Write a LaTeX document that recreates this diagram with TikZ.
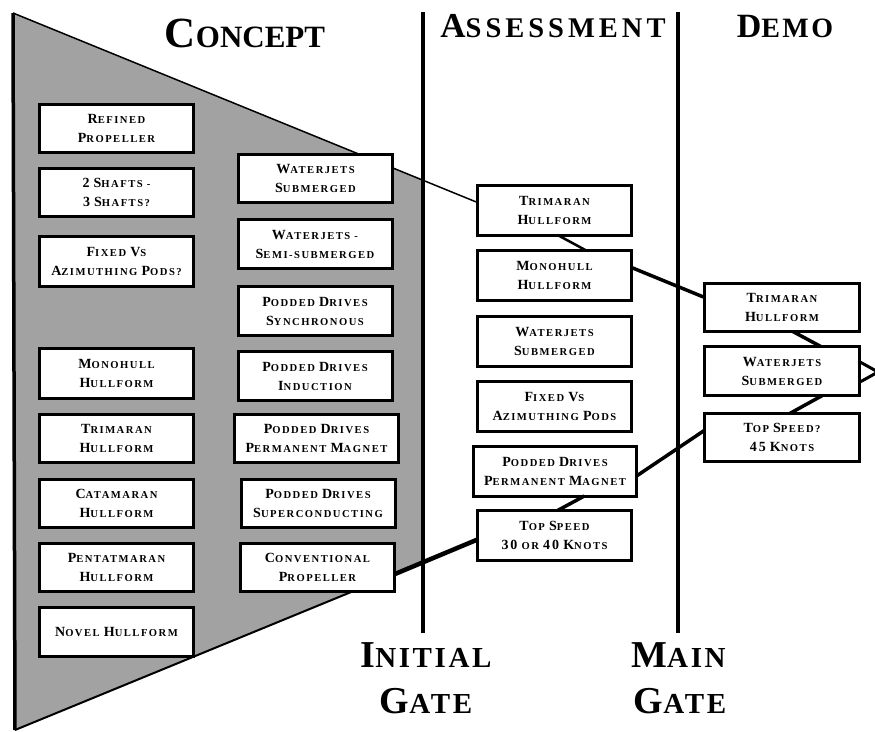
\documentclass[tikz,border=0pt]{standalone}
\usepackage{fontspec}
\setmainfont{Liberation Serif}
\newfontfamily\boxfam{Liberation Serif}[LetterSpace=14]
\newfontfamily\headfam{Liberation Serif}[LetterSpace=9]
\newfontfamily\wideheadfam{Liberation Serif}[LetterSpace=14]
\newfontfamily\plainfam{Liberation Serif}
\usetikzlibrary{calc}
\definecolor{funnelgray}{RGB}{162,162,162}

% fake small caps: the small size is the running size, \kp sets a capital
\newcommand\bxs{\boxfam\bfseries\fontsize{10.6}{19}\selectfont}
\newcommand\kp[1]{{\fontsize{14}{19}\selectfont #1}}
\newcommand\capsz[2]{{\fontsize{#1}{#1}\selectfont #2}}

\tikzset{
  box/.style={draw=black, line width=3pt, fill=white, minimum width=154pt,
    minimum height=48pt, inner sep=1pt, outer sep=0pt, align=center, font=\bxs},
  tallbox/.style={box, minimum height=50pt},
  gate/.style={line width=4.5pt},
  edge/.style={line width=2pt},
  thinlink/.style={line width=1.5pt},
  link/.style={line width=3.5pt},
  heavylink/.style={line width=4.5pt},
  head/.style={anchor=base, inner sep=0pt}
}

\begin{document}
\begin{tikzpicture}[x=1pt, y=-1pt]
\useasboundingbox (0,0) rectangle (875,731);

% funnel corners
\coordinate (ftop) at (13,13);
\coordinate (fhi) at (423,180);
\coordinate (flo) at (423,562);
\coordinate (fbot) at (15,730);
\coordinate (fcut) at (395,574);

% shaded funnel
\fill[funnelgray] (ftop) -- (fhi) -- (flo) -- (fbot) -- cycle;
\draw[line width=3.5pt] (ftop) -- (fbot);
\draw[edge] (fbot) -- (fcut);

% gates
\coordinate (g1t) at (423,12);
\coordinate (g1b) at (423,633);
\coordinate (g2t) at (678,12);
\coordinate (g2b) at (678,633);
\draw[gate] (g1t) -- (g1b);
\draw[gate] (g2t) -- (g2b);

% headings
\node[head] (hconcept) at (245,47) {\plainfam\bfseries\fontsize{31}{31}\selectfont\capsz{43}{C}ONCEPT};
\node[head] (hassess) at (553,37) {\wideheadfam\bfseries\fontsize{28.5}{28.5}\selectfont\capsz{35}{A}SSESSMENT};
\node[head] (hdemo) at (785,37) {\headfam\bfseries\fontsize{28}{28}\selectfont\capsz{34}{D}EMO};
\node[head] (hinit) at (426,667) {\headfam\bfseries\fontsize{29}{29}\selectfont\capsz{38}{I}NITIAL};
\node[head] (hinitg) at (426,713) {\headfam\bfseries\fontsize{29}{29}\selectfont\capsz{38}{G}ATE};
\node[head] (hmain) at (678.5,667) {\headfam\bfseries\fontsize{29}{29}\selectfont\capsz{38}{M}AIN};
\node[head] (hmaing) at (680,713) {\headfam\bfseries\fontsize{29}{29}\selectfont\capsz{38}{G}ATE};

% assessment boxes (placed first so the funnel edge can end on them)
\node[tallbox] (A1) at (554.5,210) {\kp{T}RIMARAN\\\kp{H}ULLFORM};
\node[tallbox] (A2) at (554.5,275) {\kp{M}ONOHULL\\\kp{H}ULLFORM};
\node[tallbox] (A3) at (554.5,341.5) {\kp{W}ATERJETS\\\kp{S}UBMERGED};
\node[tallbox] (A4) at (554.5,406.5) {\kp{F}IXED \kp{V}S\\\kp{A}ZIMUTHING \kp{P}ODS};
\node[tallbox, minimum width=163pt] (A5) at (555,471) {\kp{P}ODDED \kp{D}RIVES\\\kp{P}ERMANENT \kp{M}AGNET};
\node[tallbox] (A6) at (554.5,535.5) {\kp{T}OP \kp{S}PEED\\\kp{30} OR \kp{40} \kp{K}NOTS};

% upper funnel edge, running on to the assessment stage
\draw[thinlink] (ftop) -- ($(A1.north west)!0.35!(A1.south west)$);

% concept boxes, left column
\node[box] (L1) at (116.5,128) {\kp{R}EFINED\\\kp{P}ROPELLER};
\node[box] (L2) at (116.5,192) {\kp{2} \kp{S}HAFTS -\\\kp{3} \kp{S}HAFTS?};
\node[box, minimum height=50pt] (L3) at (116.5,261.5) {\kp{F}IXED \kp{V}S\\\kp{A}ZIMUTHING \kp{P}ODS?};
\node[box, minimum height=50pt] (L4) at (116.5,373.5) {\kp{M}ONOHULL\\\kp{H}ULLFORM};
\node[box] (L5) at (116.5,438) {\kp{T}RIMARAN\\\kp{H}ULLFORM};
\node[box] (L6) at (116.5,503) {\kp{C}ATAMARAN\\\kp{H}ULLFORM};
\node[box] (L7) at (116.5,567.5) {\kp{P}ENTATMARAN\\\kp{H}ULLFORM};
\node[box, minimum height=49pt] (L8) at (116.5,632) {\kp{N}OVEL \kp{H}ULLFORM};

% concept boxes, right column
\node[box] (R1) at (315.5,178) {\kp{W}ATERJETS\\\kp{S}UBMERGED};
\node[box, minimum height=49pt] (R2) at (315,244) {\kp{W}ATERJETS -\\\kp{S}EMI-SUBMERGED};
\node[box, minimum height=49pt] (R3) at (315,311) {\kp{P}ODDED \kp{D}RIVES\\\kp{S}YNCHRONOUS};
\node[box, minimum height=49pt] (R4) at (315,376) {\kp{P}ODDED \kp{D}RIVES\\\kp{I}NDUCTION};
\node[box, minimum width=164pt] (R5) at (316.5,438) {\kp{P}ODDED \kp{D}RIVES\\\kp{P}ERMANENT \kp{M}AGNET};
\node[box] (R6) at (318,503) {\kp{P}ODDED \kp{D}RIVES\\\kp{S}UPERCONDUCTING};
\node[box] (R7) at (317.5,567) {\kp{C}ONVENTIONAL\\\kp{P}ROPELLER};

% demo boxes
\node[box, minimum width=155pt] (D1) at (782,307.5) {\kp{T}RIMARAN\\\kp{H}ULLFORM};
\node[box, minimum width=155pt, minimum height=49pt] (D2) at (782,371) {\kp{W}ATERJETS\\\kp{S}UBMERGED};
\node[box, minimum width=155pt] (D3) at (782,437.5) {\kp{T}OP \kp{S}PEED?\\\kp{45} \kp{K}NOTS};

% narrowing chain of selected options
\coordinate (apex) at (878,372);
\draw[link, line width=2.5pt] ($(A1.south west)!0.52!(A1.south east)$) -- ($(A2.north west)!0.70!(A2.north east)$);
\draw[link] ($(A2.north east)!0.35!(A2.south east)$) -- ($(D1.north west)!0.29!(D1.south west)$);
\draw[link] ($(D1.south west)!0.57!(D1.south east)$) -- ($(D2.north west)!0.75!(D2.north east)$);
\draw[link, line width=3pt] ($(D2.north east)!0.31!(D2.south east)$) -- (apex);
\draw[link, line width=3pt] ($(D2.north east)!0.73!(D2.south east)$) -- (apex);
\draw[link] ($(D2.south west)!0.76!(D2.south east)$) -- ($(D3.north west)!0.55!(D3.north east)$);
\draw[link] ($(D3.north west)!0.35!(D3.south west)$) -- ($(A5.north east)!0.6!(A5.south east)$);
\draw[link] ($(A5.south west)!0.68!(A5.south east)$) -- ($(A6.north west)!0.52!(A6.north east)$);
\draw[heavylink] (fcut) -- ($(A6.north west)!0.58!(A6.south west)$);
\end{tikzpicture}
\end{document}
